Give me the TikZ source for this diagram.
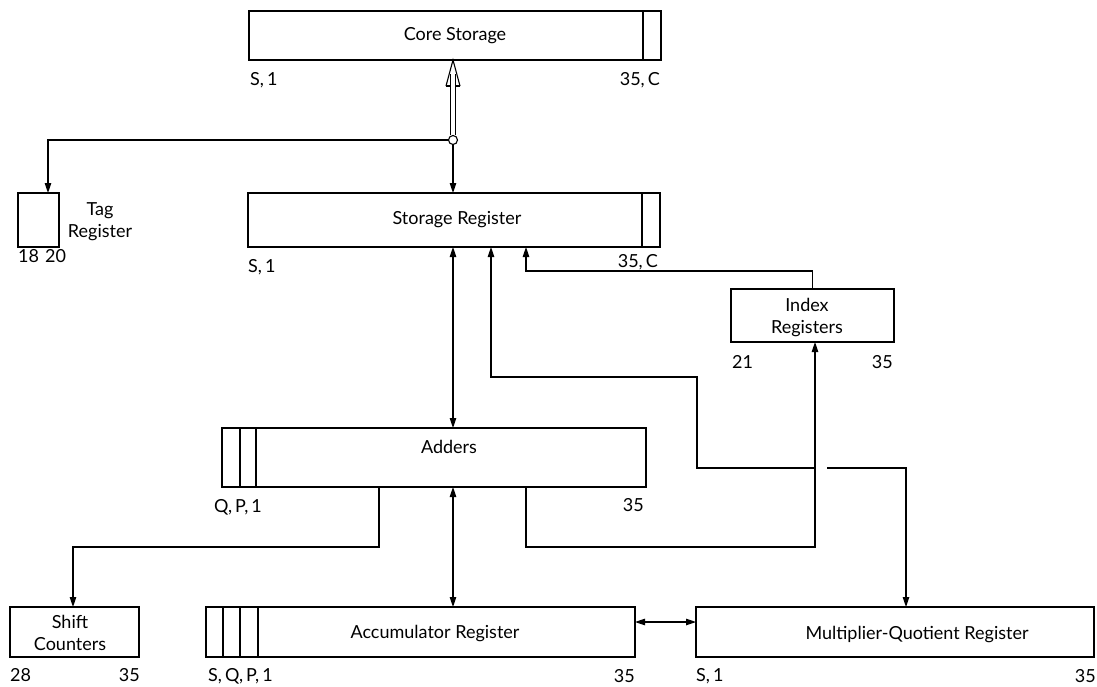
\documentclass[tikz,border=0pt]{standalone}
\usepackage{fontspec}
\setmainfont{Lato}
\usetikzlibrary{arrows.meta}
\begin{document}
\begin{tikzpicture}[x=1pt,y=-1pt,
  box/.style={draw, line width=2.5pt, rectangle, inner sep=0pt, outer sep=0pt},
  divider/.style={line width=1.1pt},
  conn/.style={line width=1.1pt},
  txt/.style={font=\fontsize{18}{22}\selectfont, inner sep=0pt, align=center},
  >={Triangle[length=10pt,width=6.5pt]},
]
\useasboundingbox (0,0) rectangle (1097,686);

% boxes
\node[box, minimum width=412pt, minimum height=49pt] (core) at (455,35.5) {};
\node[box, minimum width=412pt, minimum height=54pt] (sr) at (454,220) {};
\node[box, minimum width=41pt, minimum height=54pt] (tag) at (38.5,220) {};
\node[box, minimum width=163pt, minimum height=53pt] (idx) at (812.5,315.5) {};
\node[box, minimum width=424pt, minimum height=59pt] (add) at (434,457.5) {};
\node[box, minimum width=129pt, minimum height=50pt] (shift) at (74.5,632) {};
\node[box, minimum width=429pt, minimum height=50pt] (acc) at (420.5,632) {};
\node[box, minimum width=398pt, minimum height=50pt] (mq) at (895,632) {};

% dividers
\draw[divider] ([xshift=-18pt]core.north east) -- ([xshift=-18pt]core.south east);
\draw[divider] ([xshift=-18pt]sr.north east) -- ([xshift=-18pt]sr.south east);
\draw[divider] ([xshift=18pt]add.north west) -- ([xshift=18pt]add.south west);
\draw[divider] ([xshift=34pt]add.north west) -- ([xshift=34pt]add.south west);
\draw[divider] ([xshift=17pt]acc.north west) -- ([xshift=17pt]acc.south west);
\draw[divider] ([xshift=34pt]acc.north west) -- ([xshift=34pt]acc.south west);
\draw[divider] ([xshift=52pt]acc.north west) -- ([xshift=52pt]acc.south west);

% texts in boxes
\node[txt] (coret) at (455,36) {Core Storage};
\node[txt] (srt) at (457,220) {Storage Register};
\node[txt] (tagt) at (100,222) {Tag\\Register};
\node[txt] (idxt) at (807,318) {Index\\Registers};
\node[txt] (addt) at (449,447) {Adders};
\node[txt] (shiftt) at (70,633) {Shift\\Counters};
\node[txt] (acct) at (435,634) {Accumulator Register};
\node[txt] (mqt) at (917,635) {Multiplier-Quotient Register};

% bit labels
\node[txt, anchor=west] (l1) at (250,80) {S,\,1};
\node[txt, anchor=east] (l2) at (660,80) {35,\,C};
\node[txt, anchor=west] (l3) at (248,267) {S,\,1};
\node[txt, anchor=east] (l4) at (658,262) {35,\,C};
\node[txt, anchor=west] (l5) at (18,256) {18};
\node[txt, anchor=west] (l6) at (45,256) {20};
\node[txt, anchor=west] (l7) at (732,362) {21};
\node[txt, anchor=east] (l8) at (893,362) {35};
\node[txt, anchor=west] (l9) at (214,507) {Q,\,P,\,1};
\node[txt, anchor=east] (l10) at (644,505) {35};
\node[txt, anchor=west] (l11) at (10,675) {28};
\node[txt, anchor=east] (l12) at (140,675) {35};
\node[txt, anchor=west] (l13) at (208,676) {S,\,Q,\,P,\,1};
\node[txt, anchor=east] (l14) at (635,676) {35};
\node[txt, anchor=west] (l15) at (696,676) {S,\,1};
\node[txt, anchor=east] (l16) at (1096,676) {35};

% junction
\node[circle, draw, line width=1.1pt, minimum size=9pt, inner sep=0pt, fill=white] (j) at (453,140) {};
\coordinate (tagc) at (48,140);
\coordinate (p1) at (491,377);
\coordinate (p2) at (697,377);
\coordinate (p3) at (697,468);
\coordinate (gapL) at (815,468);
\coordinate (gapR) at (827,468);
\coordinate (p4) at (906,468);
\coordinate (q1) at (526,271);
\coordinate (r1) at (526,547);
\coordinate (r2) at (815,547);
\coordinate (s1) at (379,547);
\coordinate (s2) at (73,547);
\coordinate (tip) at (j |- core.south);

% double connector to core storage with open head
\draw[conn] ([xshift=-2.5pt]j.north) -- ([xshift=-2.5pt,yshift=-14pt]tip);
\draw[conn] ([xshift=2.5pt]j.north) -- ([xshift=2.5pt,yshift=-14pt]tip);
\draw[conn, line join=miter] ([xshift=-7pt,yshift=-26pt]tip) -- (tip) -- ([xshift=7pt,yshift=-26pt]tip);
\draw[conn] ([xshift=-7pt,yshift=-26pt]tip) -- ([xshift=-2.5pt,yshift=-26pt]tip);
\draw[conn] ([xshift=7pt,yshift=-26pt]tip) -- ([xshift=2.5pt,yshift=-26pt]tip);

% connectors
\draw[conn,->] (j.west) -- (tagc) -- (tagc |- tag.north);
\draw[conn,->] (j.south) -- (j |- sr.north);
\draw[conn,<->] (j |- sr.south) -- (j |- add.north);
\draw[conn,<-] (p1 |- sr.south) -- (p1) -- (p2) -- (p3) -- (gapL);
\draw[conn,->] (gapR) -- (p4) -- (p4 |- mq.north);
\draw[conn,->] (idx.north) -- (idx.north |- q1) -- (q1) -- (q1 |- sr.south);
\draw[conn,->] (r1 |- add.south) -- (r1) -- (r2) -- (r2 |- idx.south);
\draw[conn,->] (s1 |- add.south) -- (s1) -- (s2) -- (s2 |- shift.north);
\draw[conn,<->] (j |- add.south) -- (j |- acc.north);
\draw[conn,<->] ([yshift=10pt]acc.east) -- ([yshift=10pt]mq.west);
\end{tikzpicture}
\end{document}
